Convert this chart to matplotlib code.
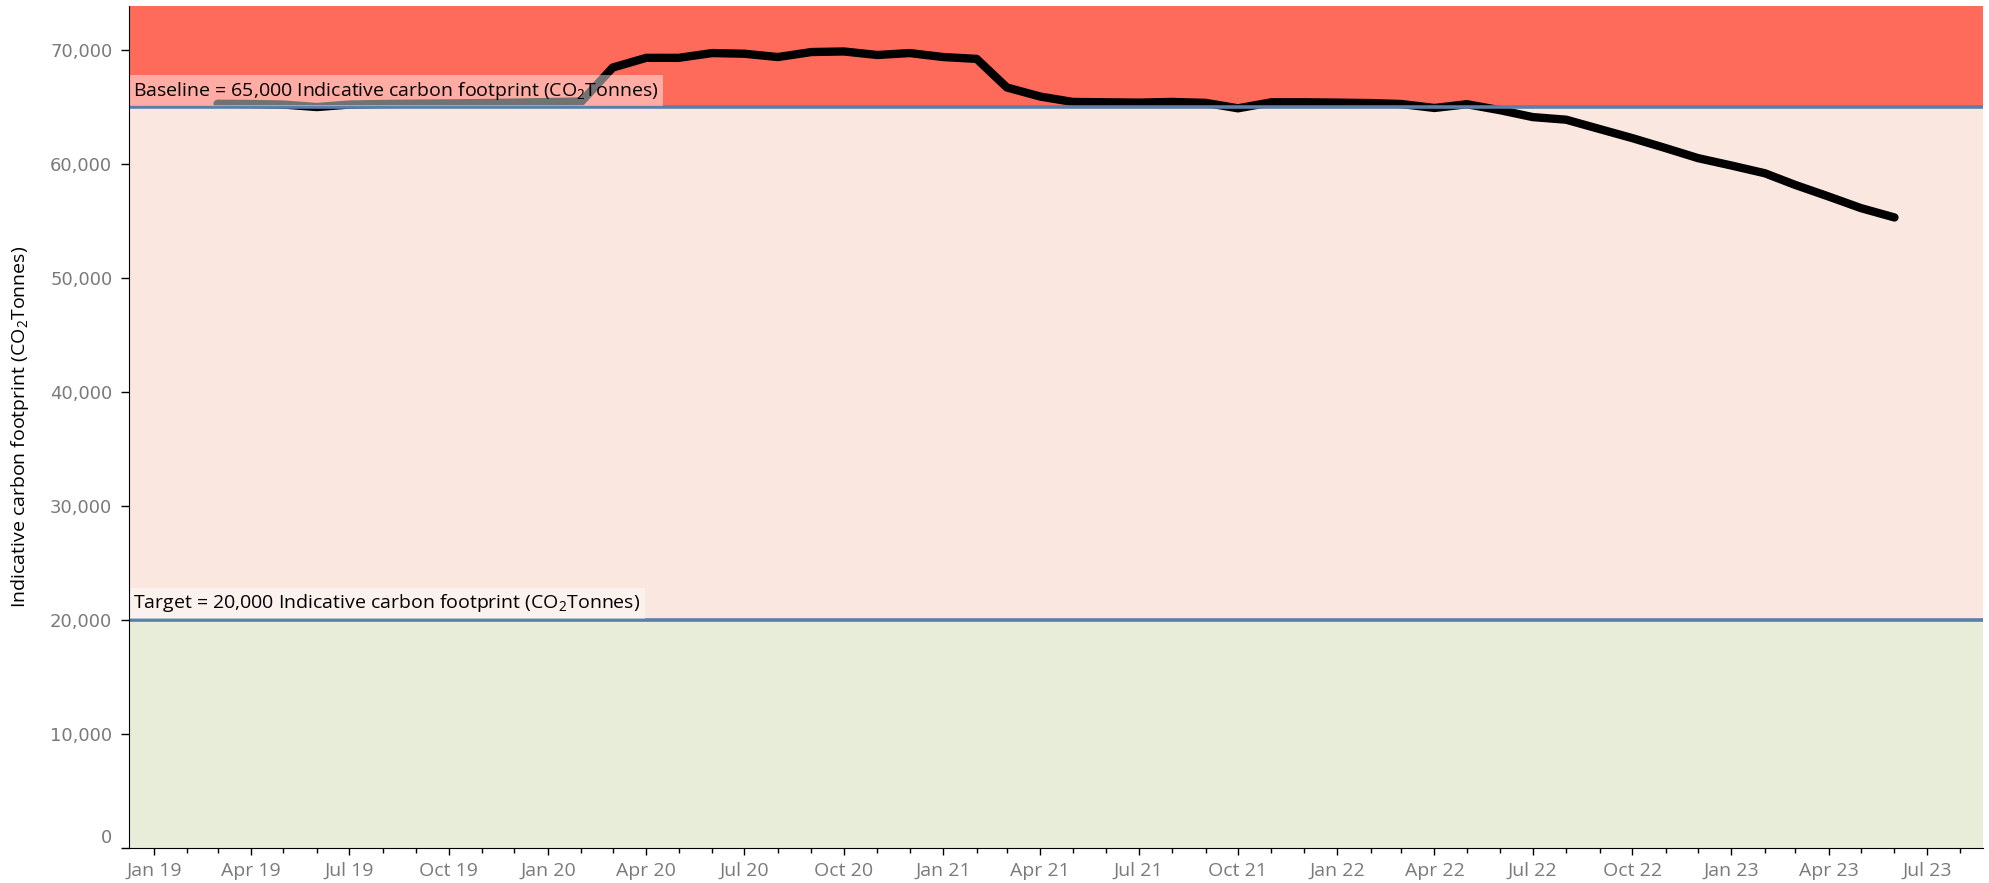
import matplotlib
matplotlib.use("Agg")
import matplotlib.pyplot as plt
import matplotlib.dates as mdates
import matplotlib.ticker as mticker
import matplotlib.transforms as mtransforms
import pandas as pd

# ---- data ----
start_month = "2019-03-01"
footprint = [
    65320, 65300, 65250, 65030, 65250, 65300, 65330, 65350, 65380, 65420,          # 2019 Mar-Dec
    65470, 65520, 68500, 69350, 69350, 69770, 69710, 69420, 69860, 69910, 69600, 69770,  # 2020
    69420, 69260, 66750, 65950, 65480, 65450, 65420, 65480, 65400, 64920, 65450, 65450,  # 2021
    65420, 65380, 65300, 64950, 65280, 64750, 64150, 63920, 63100, 62310, 61430, 60550,  # 2022
    59900, 59220, 58200, 57180, 56160, 55340,                                        # 2023 Jan-Jun
]
months = pd.date_range(start_month, periods=len(footprint), freq="MS")
baseline = 65000
target = 20000
y_top = 73900
y_ticks = [0, 10000, 20000, 30000, 40000, 50000, 60000, 70000]
x_range = ("2018-12-09", "2023-08-22")
baseline_label = "Baseline = 65,000 Indicative carbon footprint (CO$_2$Tonnes)"
target_label = "Target = 20,000 Indicative carbon footprint (CO$_2$Tonnes)"
y_label = "Indicative carbon footprint (CO$_2$Tonnes)"

# ---- styling ----
RED = "#FF6B5B"
PINK = "#FAE8E0"
GREEN = "#E8EDDA"
BLUE = "#5A7FA8"
GRAY = "#7A7A7A"

plt.rcParams["font.family"] = ["Open Sans", "DejaVu Sans"]
plt.rcParams["mathtext.fontset"] = "custom"
plt.rcParams["mathtext.rm"] = "Open Sans"

fig = plt.figure(figsize=(19.89, 8.83), dpi=100)
ax = fig.add_axes([129 / 1989, 1 - 848 / 883, (1983 - 129) / 1989, (848 - 6) / 883])

ax.axhspan(baseline, y_top, color=RED, zorder=0, lw=0)
ax.axhspan(target, baseline, color=PINK, zorder=0, lw=0)
ax.axhspan(0, target, color=GREEN, zorder=0, lw=0)

ax.plot(months, footprint, color="black", lw=6, solid_capstyle="round",
        solid_joinstyle="round", zorder=2)

ax.axhline(baseline, color=BLUE, lw=2.6, zorder=3)
ax.axhline(target, color=BLUE, lw=2.6, zorder=3)

ax.set_xlim(pd.Timestamp(x_range[0]), pd.Timestamp(x_range[1]))
ax.set_ylim(0, y_top)

label_fs = 14
pad_frac = 0.22
tb = mtransforms.blended_transform_factory(ax.transAxes, ax.transData)
for val, lab in [(baseline, baseline_label), (target, target_label)]:
    ax.annotate(lab, xy=(0, val), xycoords=tb,
                xytext=(pad_frac * label_fs, pad_frac * label_fs + 1.0),
                textcoords="offset points", ha="left", va="bottom",
                fontsize=label_fs, color="black", zorder=4,
                bbox=dict(boxstyle=f"square,pad={pad_frac}", facecolor="white",
                          alpha=0.45, edgecolor="none"))

ax.xaxis.set_major_locator(mdates.MonthLocator(bymonth=[1, 4, 7, 10]))
ax.xaxis.set_minor_locator(mdates.MonthLocator())
ax.xaxis.set_major_formatter(mdates.DateFormatter("%b %y"))
ax.yaxis.set_major_locator(mticker.FixedLocator(y_ticks))
ax.yaxis.set_major_formatter(mticker.FuncFormatter(lambda v, p: f"{int(v):,}"))

ax.tick_params(axis="x", which="major", length=5, width=1, color="black",
               labelsize=14, labelcolor=GRAY, pad=5)
ax.tick_params(axis="x", which="minor", length=3.5, width=1, color="black")
ax.tick_params(axis="y", which="major", length=6, width=1, color="black",
               labelsize=13, labelcolor=GRAY, pad=6, labelfontfamily="DejaVu Sans")

fig.canvas.draw()
# shift the "0" label upward like the reference
zero_lab = ax.yaxis.get_major_ticks()[0].label1
zero_lab.set_transform(zero_lab.get_transform() +
                       mtransforms.ScaledTranslation(0, 12 / 100, fig.dpi_scale_trans))

for s in ["top", "right"]:
    ax.spines[s].set_visible(False)
ax.spines["left"].set_color("black")
ax.spines["bottom"].set_color("black")
ax.spines["left"].set_zorder(5)
ax.spines["bottom"].set_zorder(5)

ax.set_ylabel(y_label, fontsize=14, color="black", labelpad=14)

fig.savefig("out.png", dpi=100)
